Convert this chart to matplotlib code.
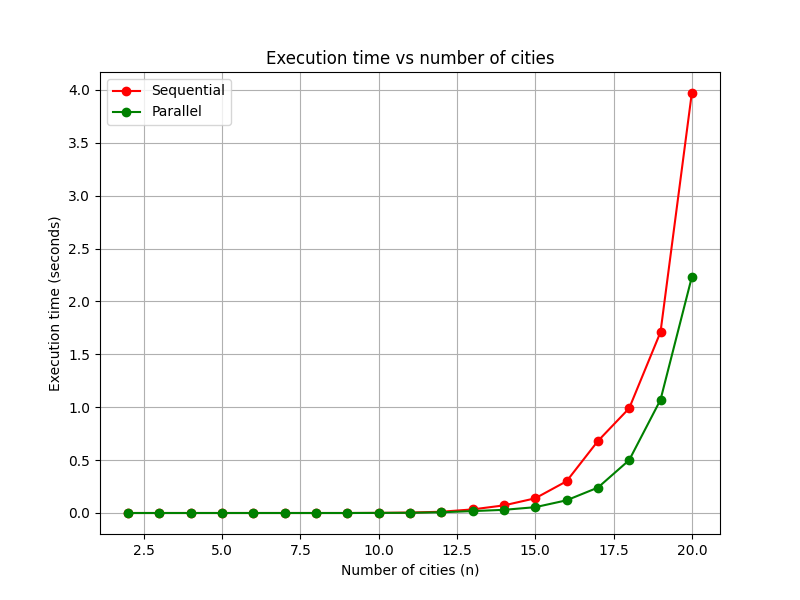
import matplotlib
matplotlib.use("Agg")
import matplotlib.pyplot as plt

# --- Data ---
cities = [2, 3, 4, 5, 6, 7, 8, 9, 10, 11, 12, 13, 14, 15, 16, 17, 18, 19, 20]
sequential = [0.0, 0.0, 0.0, 0.0, 0.0, 0.0, 0.0, 0.0, 0.001, 0.004, 0.012,
              0.034, 0.072, 0.139, 0.30, 0.68, 0.99, 1.71, 3.97]
parallel = [0.0, 0.0, 0.0, 0.0, 0.0, 0.0, 0.0, 0.0, 0.001, 0.002, 0.007,
            0.018, 0.03, 0.055, 0.12, 0.24, 0.50, 1.07, 2.23]

plt.figure(figsize=(8, 6), dpi=100)
plt.plot(cities, sequential, marker="o", color="red", label="Sequential")
plt.plot(cities, parallel, marker="o", color="green", label="Parallel")
plt.xlabel("Number of cities (n)")
plt.ylabel("Execution time (seconds)")
plt.title("Execution time vs number of cities")
plt.legend()
plt.grid(True)

plt.savefig("out.png")
